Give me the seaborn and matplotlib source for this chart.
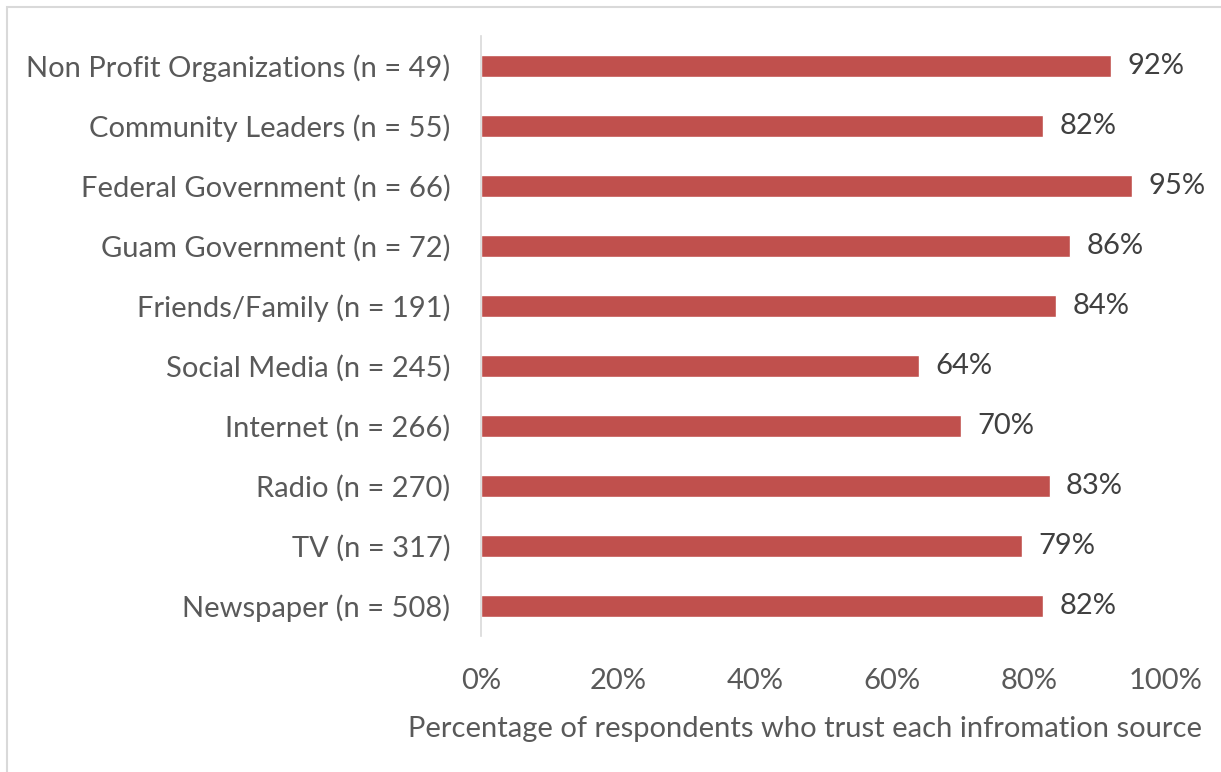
import matplotlib
matplotlib.use("Agg")
import matplotlib.pyplot as plt
import matplotlib.patches as mpatches
from matplotlib.ticker import FuncFormatter
import seaborn as sns
import pandas as pd

# Information sources (top to bottom) and share of respondents who trust each
sources = [
    "Non Profit Organizations (n = 49)",
    "Community Leaders (n = 55)",
    "Federal Government (n = 66)",
    "Guam Government (n = 72)",
    "Friends/Family (n = 191)",
    "Social Media (n = 245)",
    "Internet (n = 266)",
    "Radio (n = 270)",
    "TV (n = 317)",
    "Newspaper (n = 508)",
]
trust_pct = [92, 82, 95, 86, 84, 64, 70, 83, 79, 82]
x_ticks = [0, 20, 40, 60, 80, 100]

df = pd.DataFrame({"source": sources, "trust": trust_pct})

sns.set_theme(style="white")
plt.rcParams["font.family"] = ["Lato", "DejaVu Sans"]

W, H = 1221, 772
fig = plt.figure(figsize=(W / 100, H / 100), dpi=100)
ax = fig.add_axes([481 / W, 1 - 636 / H, (1166 - 481) / W, (636 - 36) / H])

bar_color = "#C0504D"
sns.barplot(data=df, x="trust", y="source", orient="h", color=bar_color,
            width=0.36, saturation=1, ax=ax)

ax.set_xlim(0, 100)
ax.set_ylim(len(sources) - 0.5, -0.5)
ax.set_xticks(x_ticks)
ax.xaxis.set_major_formatter(FuncFormatter(lambda v, _: f"{v:.0f}%"))

fs = 21
text_col = "#595959"
ax.tick_params(axis="y", length=0, pad=22, labelsize=fs, labelcolor=text_col)
ax.tick_params(axis="x", length=0, pad=23, labelsize=fs, labelcolor=text_col)

for side in ["top", "right", "bottom"]:
    ax.spines[side].set_visible(False)
ax.spines["left"].set_color("#D9D9D9")
ax.spines["left"].set_linewidth(1.2)

ax.set_ylabel("")
ax.set_xlabel("Percentage of respondents who trust each infromation source",
              fontsize=fs, color=text_col)
ax.xaxis.set_label_coords(0.473, -0.133)

# Value labels at the end of each bar
for i, v in enumerate(trust_pct):
    ax.text(v + 2.4, i, f"{v}%", va="center", ha="left",
            fontsize=fs, color="#404040")

# Light chart-area border
fig.patches.append(mpatches.Rectangle((7 / W, -0.1), 1.2, 1 - 7 / H + 0.1,
                                      transform=fig.transFigure, fill=False,
                                      edgecolor="#D9D9D9", linewidth=1.5))

fig.savefig("out.png", dpi=100)
